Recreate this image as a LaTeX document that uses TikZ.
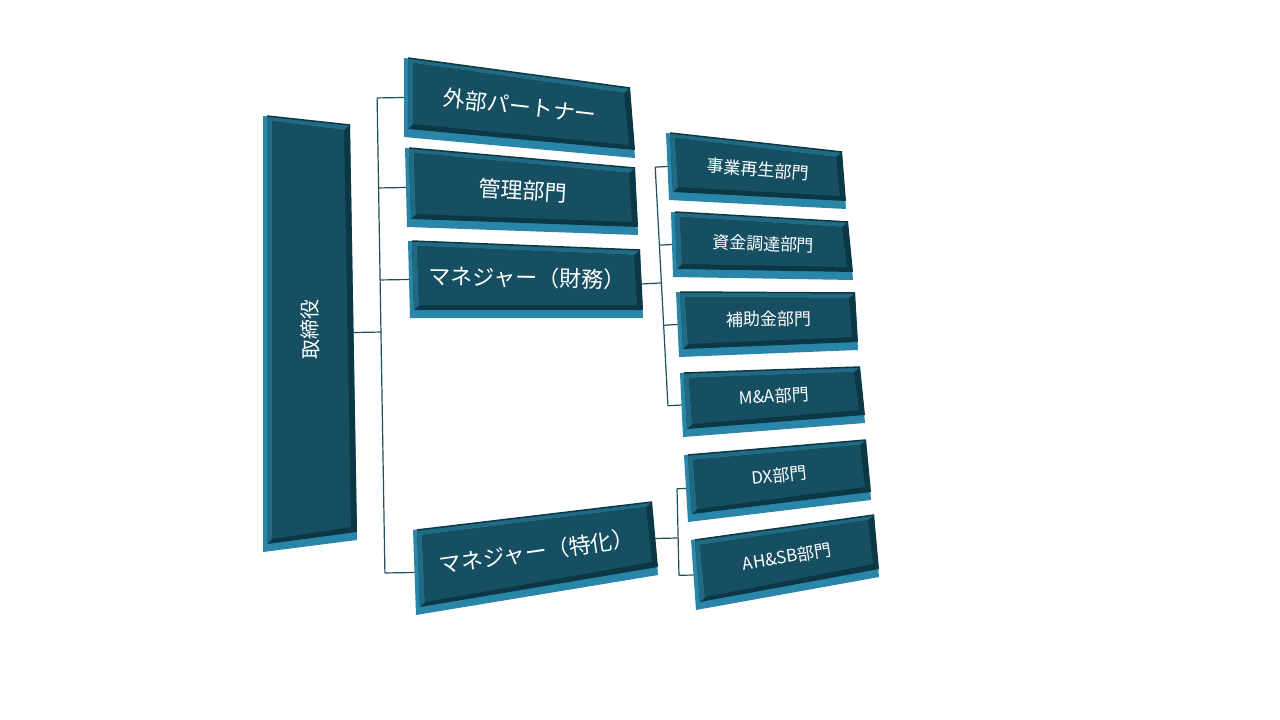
\documentclass[tikz,border=0pt]{standalone}
\usepackage{fontspec}
\newfontfamily\jpfont{Noto Sans CJK JP}
\usetikzlibrary{calc}
\definecolor{facecol}{HTML}{174F62}
\definecolor{sidecol}{HTML}{2A86A8}
\definecolor{litecol}{HTML}{216A84}
\definecolor{darkcol}{HTML}{0C3744}
\definecolor{linecol}{HTML}{234F5C}
\newcommand{\orgbox}[5]{%
  \coordinate (#1-A) at (#2);
  \coordinate (#1-B) at (#3);
  \coordinate (#1-C) at (#4);
  \coordinate (#1-D) at (#5);
  \coordinate (#1-f1) at ($(#1-A)+(4,0)$);
  \coordinate (#1-f2) at (#1-B);
  \coordinate (#1-f3) at ($(#1-C)+(0,-8)$);
  \coordinate (#1-f4) at ($(#1-D)+(4,-8)$);
  \coordinate (#1-i1) at ($(#1-f1)+(5,5)$);
  \coordinate (#1-i2) at ($(#1-f2)+(-6,5)$);
  \coordinate (#1-i3) at ($(#1-f3)+(-6,-5)$);
  \coordinate (#1-i4) at ($(#1-f4)+(5,-5)$);
  \coordinate (#1-l) at ($(#1-A)!.5!(#1-D)$);
  \coordinate (#1-r) at ($(#1-B)!.5!(#1-C)$);
  \coordinate (#1-cl) at ($(#1-f1)!.5!(#1-f4)$);
  \coordinate (#1-cr) at ($(#1-f2)!.5!(#1-f3)$);
  \coordinate (#1-ct) at ($(#1-f1)!.5!(#1-f2)$);
  \coordinate (#1-cb) at ($(#1-f4)!.5!(#1-f3)$);
  \fill[sidecol] (#1-A) -- (#1-B) -- (#1-C) -- (#1-D) -- cycle;
  \fill[darkcol] (#1-f1) -- (#1-f2) -- (#1-f3) -- (#1-f4) -- cycle;
  \fill[litecol] (#1-f1) -- (#1-f2) -- (#1-i2) -- (#1-i1) -- (#1-i4) -- (#1-f4) -- cycle;
  \fill[facecol] (#1-i1) -- (#1-i2) -- (#1-i3) -- (#1-i4) -- cycle;
  \draw[darkcol, line width=1.5] (#1-f1) -- (#1-f2);
}

\begin{document}
\begin{tikzpicture}[x=1pt, y=-1pt, line join=round,
  conn/.style={linecol, line width=1.2pt},
  bigtxt/.style={text=white, inner sep=0, font=\jpfont\fontsize{22}{22}\selectfont},
  midtxt/.style={text=white, inner sep=0, font=\jpfont\fontsize{20}{20}\selectfont},
  smalltxt/.style={text=white, inner sep=0, font=\jpfont\fontsize{17}{17}\selectfont}]
\fill[white] (0,0) rectangle (1280,720);
\useasboundingbox (0,0) rectangle (1280,720);

\orgbox{tor}{263,116}{350,125}{357,540}{263,552}
\orgbox{sv}{404,58}{630,88}{635,158}{404,137}
\orgbox{kanri}{405,148}{635,168}{638,235}{407,227}
\orgbox{zaimu}{408,241}{640,250}{643,318}{410,318}
\orgbox{tokka}{413,530}{652,502}{658,575}{416,615}
\orgbox{jigyo}{666,133}{842,152}{846,209}{669,200}
\orgbox{shikin}{671,212}{848,222}{853,280}{673,277}
\orgbox{hojo}{676,292}{855,293}{858,350}{679,357}
\orgbox{ma}{680,373}{860,367}{865,423}{683,437}
\orgbox{dx}{684,455}{866,440}{871,500}{688,522}
\orgbox{ahsb}{691,540}{874,515}{879,577}{696,610}

\path (tor-cb) -- (tor-ct) node[midway, sloped, allow upside down, midtxt] (tor) {取締役};
\path (sv-cl) -- (sv-cr) node[midway, sloped, bigtxt] (sv) {外部パートナー};
\path (kanri-cl) -- (kanri-cr) node[midway, sloped, bigtxt] (kanri) {管理部門};
\path (zaimu-cl) -- (zaimu-cr) node[midway, sloped, bigtxt] (zaimu) {マネジャー（財務）};
\path (tokka-cl) -- (tokka-cr) node[midway, sloped, bigtxt] (tokka) {マネジャー（特化）};
\path (jigyo-cl) -- (jigyo-cr) node[midway, sloped, smalltxt] (jigyo) {事業再生部門};
\path (shikin-cl) -- (shikin-cr) node[midway, sloped, smalltxt] (shikin) {資金調達部門};
\path (hojo-cl) -- (hojo-cr) node[midway, sloped, smalltxt] (hojo) {補助金部門};
\path (ma-cl) -- (ma-cr) node[midway, sloped, smalltxt] (ma) {M\&A部門};
\path (dx-cl) -- (dx-cr) node[midway, sloped, smalltxt] (dx) {DX部門};
\path (ahsb-cl) -- (ahsb-cr) node[midway, sloped, smalltxt] (ahsb) {AH\&SB部門};

\coordinate (b1t) at (377,91);
\coordinate (b1b) at (385,578);
\coordinate (b2t) at (655,163);
\coordinate (b2b) at (668,407);
\coordinate (b3t) at (677,488);
\coordinate (b3b) at (679,576);

\draw[conn] ($(b1t)!(sv-l)!(b1b)$) -- ($(b1t)!(tokka-l)!(b1b)$);
\draw[conn] (tor-r) -- ($(b1t)!(tor-r)!(b1b)$);
\foreach \n in {sv,kanri,zaimu,tokka}
  \draw[conn] ($(b1t)!(\n-l)!(b1b)$) -- (\n-l);

\draw[conn] ($(b2t)!(jigyo-l)!(b2b)$) -- ($(b2t)!(ma-l)!(b2b)$);
\draw[conn] (zaimu-r) -- ($(b2t)!(zaimu-r)!(b2b)$);
\foreach \n in {jigyo,shikin,hojo,ma}
  \draw[conn] ($(b2t)!(\n-l)!(b2b)$) -- (\n-l);

\draw[conn] ($(b3t)!(dx-l)!(b3b)$) -- ($(b3t)!(ahsb-l)!(b3b)$);
\draw[conn] (tokka-r) -- ($(b3t)!(tokka-r)!(b3b)$);
\foreach \n in {dx,ahsb}
  \draw[conn] ($(b3t)!(\n-l)!(b3b)$) -- (\n-l);
\end{tikzpicture}
\end{document}
